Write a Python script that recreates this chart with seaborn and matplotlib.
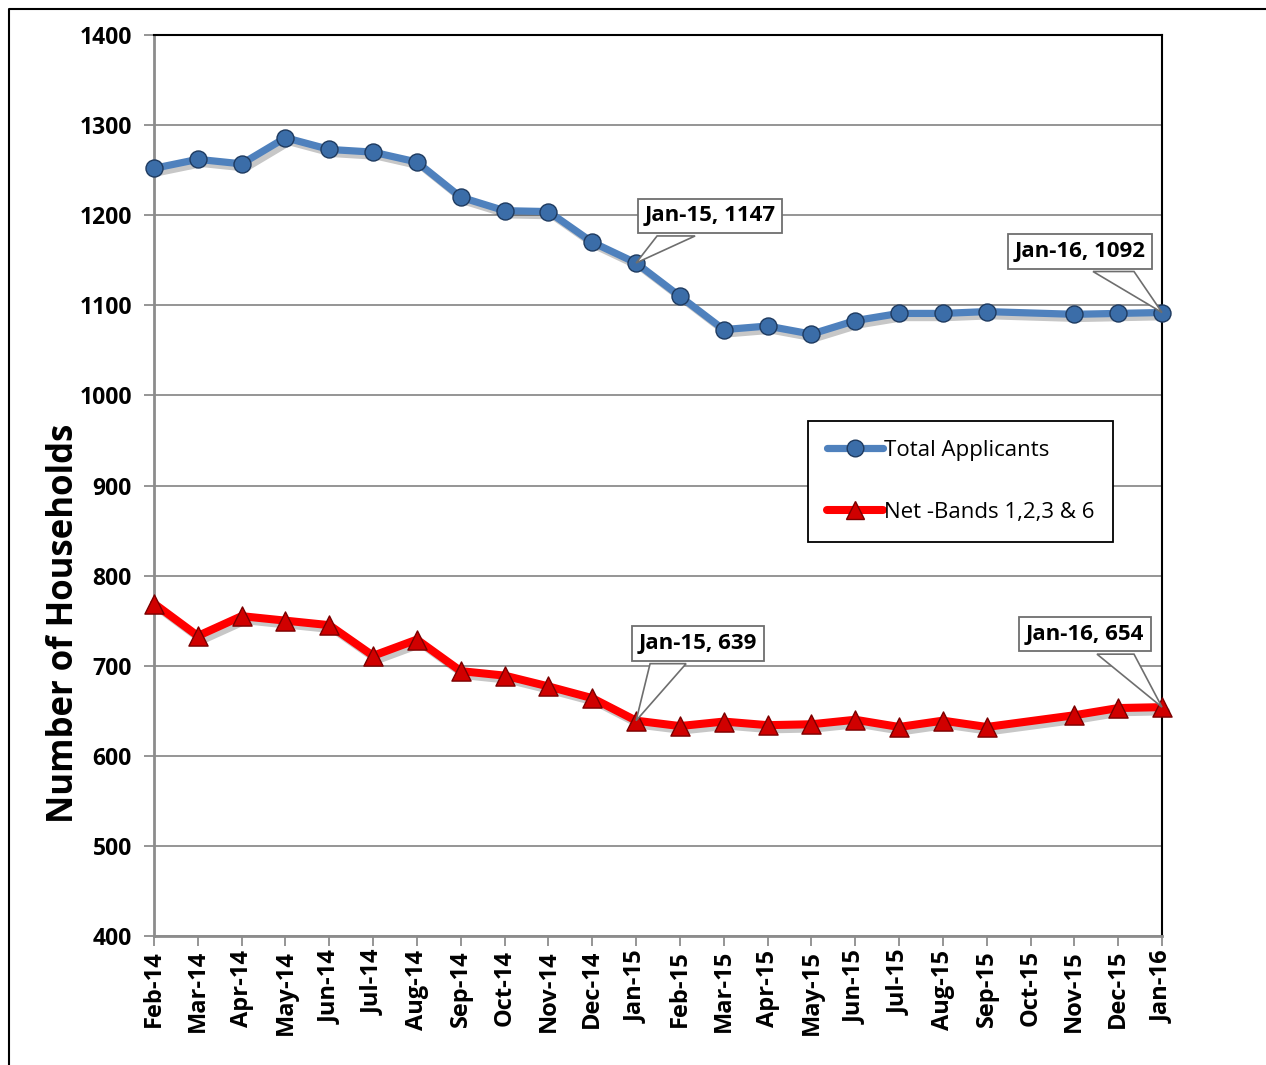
import numpy as np
import pandas as pd
import matplotlib
matplotlib.use("Agg")
import matplotlib.pyplot as plt
import matplotlib.patheffects as pe
import matplotlib.transforms as mtransforms
from matplotlib.lines import Line2D
from matplotlib.patches import Polygon
import seaborn as sns

months = ["Feb-14", "Mar-14", "Apr-14", "May-14", "Jun-14", "Jul-14", "Aug-14",
          "Sep-14", "Oct-14", "Nov-14", "Dec-14", "Jan-15", "Feb-15", "Mar-15",
          "Apr-15", "May-15", "Jun-15", "Jul-15", "Aug-15", "Sep-15", "Oct-15",
          "Nov-15", "Dec-15", "Jan-16"]
total_applicants = [1252, 1262, 1257, 1286, 1273, 1270, 1259, 1220, 1205, 1204,
                    1170, 1147, 1110, 1073, 1077, 1068, 1083, 1091, 1091, 1093,
                    np.nan, 1090, 1091, 1092]
net_bands = [769, 733, 755, 750, 745, 711, 729, 694, 689, 677, 664, 639, 633,
             638, 634, 635, 640, 632, 639, 632, np.nan, 645, 653, 654]
series_names = ["Total Applicants", "Net -Bands 1,2,3 & 6"]
y_ticks = list(range(400, 1401, 100))

sns.set_theme(style="white")
FONT = ["Open Sans", "DejaVu Sans"]
plt.rcParams["font.family"] = FONT
for k in ["text.color", "axes.labelcolor", "xtick.color", "ytick.color"]:
    plt.rcParams[k] = "black"

fig = plt.figure(figsize=(12.66, 10.65), dpi=100)
ax = fig.add_axes([154 / 1266, 1 - 936 / 1065, 1008 / 1266, 901 / 1065])

idx = np.arange(len(months))
df = pd.DataFrame({
    "x": np.concatenate([idx, idx]),
    "value": total_applicants + net_bands,
    "series": [series_names[0]] * len(months) + [series_names[1]] * len(months),
}).dropna()
d_blue = df[df.series == series_names[0]]
d_red = df[df.series == series_names[1]]

blue_line, blue_mk, blue_edge = "#4F81BD", "#3B6DA8", "#1E3A5F"
red_line, red_mk, red_edge = "#FF0000", "#D00000", "#7A0000"

shadow = [pe.SimpleLineShadow(offset=(3, -3), shadow_color="black", alpha=0.22), pe.Normal()]

sns.lineplot(data=d_blue, x="x", y="value", ax=ax, color=blue_line, linewidth=5.2,
             clip_on=False, zorder=3, path_effects=shadow, legend=False)
sns.lineplot(data=d_red, x="x", y="value", ax=ax, color=red_line, linewidth=5.8,
             clip_on=False, zorder=3, path_effects=shadow, legend=False)
sns.scatterplot(data=d_blue, x="x", y="value", ax=ax, marker="o", s=150,
                color=blue_mk, edgecolor=blue_edge, linewidth=1, clip_on=False,
                zorder=4, legend=False)
sns.scatterplot(data=d_red, x="x", y="value", ax=ax, marker="^", s=190,
                color=red_mk, edgecolor=red_edge, linewidth=1, clip_on=False,
                zorder=4, legend=False)

ax.set_xlim(0, len(months) - 1)
ax.set_ylim(400, 1400)
ax.set_yticks(y_ticks)
ax.set_yticklabels([str(v) for v in y_ticks], fontsize=16.5, fontweight="bold")
ax.set_xticks(idx)
ax.set_xticklabels(months, rotation=90, fontsize=17, fontweight="bold")
ax.set_xlabel("")
ax.set_ylabel("Number of Households", fontsize=25, fontweight="bold")
ax.yaxis.set_label_coords(-0.071, 0.347)

ax.grid(axis="y", color="#8C8C8C", linewidth=1.3)
ax.grid(axis="x", visible=False)
ax.set_axisbelow(True)
ax.tick_params(axis="both", which="both", direction="out", length=7, width=1.3,
               color="#8C8C8C", left=True, bottom=True, pad=3)
ax.tick_params(axis="y", pad=9)
for s in ["left", "bottom"]:
    ax.spines[s].set_color("#8C8C8C")
    ax.spines[s].set_linewidth(2)
for s in ["top", "right"]:
    ax.spines[s].set_color("black")
    ax.spines[s].set_linewidth(1.5)

# legend
handles = [Line2D([], [], color=blue_line, linewidth=5.2, marker="o", markersize=12,
                  markerfacecolor=blue_mk, markeredgecolor=blue_edge, solid_capstyle="round"),
           Line2D([], [], color=red_line, linewidth=5.8, marker="^", markersize=13,
                  markerfacecolor=red_mk, markeredgecolor=red_edge, solid_capstyle="round")]
leg = ax.legend(handles, series_names, loc="upper left", bbox_to_anchor=(0.649, 0.572),
                frameon=True, fancybox=False, edgecolor="black", framealpha=1,
                prop={"family": FONT, "size": 16}, labelspacing=1.85, handlelength=2.5,
                handletextpad=0.05, borderpad=0.85, borderaxespad=0)
leg.get_frame().set_linewidth(1.3)
leg.set_zorder(6)


# callouts: box offset (dx, dy) in pixels from the point, tail base x-offsets from box centre
def callout(i, val, dx, dy, b1, b2, half_h=20):
    px, py = ax.transData.transform((i, val))
    tr = mtransforms.Affine2D().translate(px, py)
    poly = Polygon([(0, 0), (dx + b1, dy - half_h), (dx + b2, dy - half_h)], closed=True,
                   transform=tr, fc="white", ec="#6E6E6E", lw=1.2, zorder=5, clip_on=False)
    fig.add_artist(poly)
    ax.annotate(f"{months[i]}, {val}", xy=(i, val), xytext=(dx, dy),
                textcoords="offset pixels", ha="center", va="center",
                fontsize=16, fontweight="bold", zorder=7,
                bbox=dict(boxstyle="square,pad=0.3", fc="white", ec="#6E6E6E", lw=1.3))


i15 = months.index("Jan-15")
i16 = months.index("Jan-16")
fig.canvas.draw()
callout(i15, total_applicants[i15], 74, 47, -53, -15)
callout(i16, total_applicants[i16], -82, 61, 13, 54)
callout(i15, net_bands[i15], 62, 77, -48, -12)
callout(i16, net_bands[i16], -77, 73, 12, 49)

# outer frame (top and left)
fig.add_artist(Line2D([9 / 1266, 9 / 1266, 1.0], [0.0, 1 - 9 / 1065, 1 - 9 / 1065],
                      transform=fig.transFigure, color="black", linewidth=1.5))

fig.savefig("out.png", dpi=100)
